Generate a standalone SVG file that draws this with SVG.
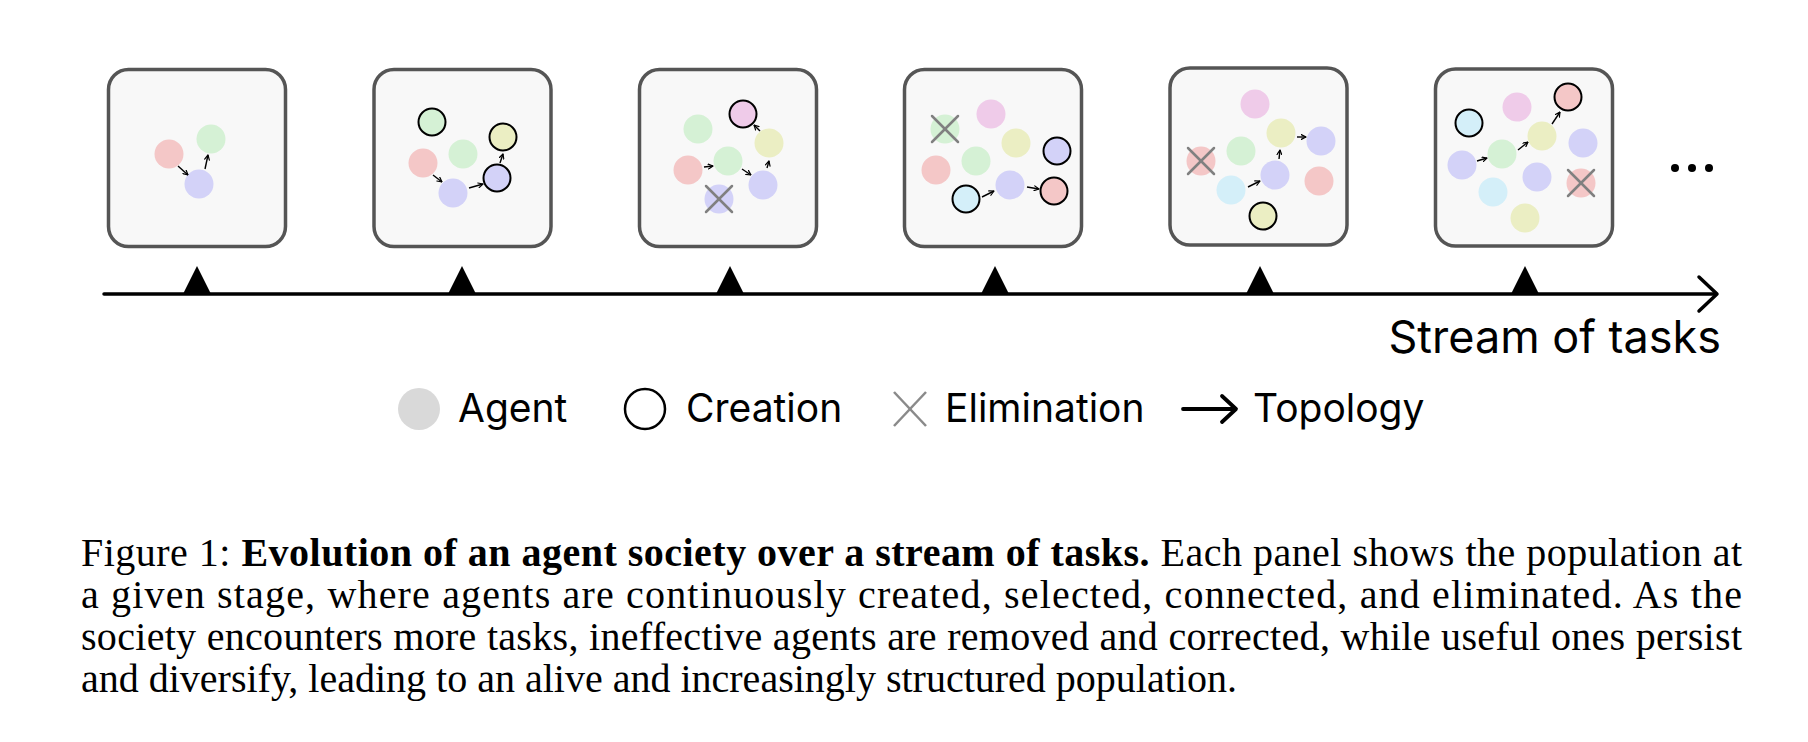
<svg xmlns="http://www.w3.org/2000/svg" width="1808" height="742" viewBox="0 0 1808 742">
<defs>
<marker id="ah" viewBox="0 0 6 6" refX="5.3" refY="3" markerWidth="6" markerHeight="6" orient="auto" markerUnits="userSpaceOnUse">
<path d="M0.6,0.6 L5.3,3 L0.6,5.4" fill="none" stroke="#000" stroke-width="1.2" stroke-linecap="round" stroke-linejoin="round"/>
</marker>
<style>
.panel{fill:#f8f8f8;stroke:#555;stroke-width:3.5}
.o{stroke:#000;stroke-width:2}
.r{fill:#f4c7c7}.g{fill:#d5f1d5}.p{fill:#d3d2f8}.y{fill:#ebeec3}.m{fill:#efcbe9}.c{fill:#d4eff9}
.x{stroke:#808080;stroke-width:2.5;stroke-linecap:round}
.e{stroke:#000;stroke-width:1.4;fill:none;marker-end:url(#ah)}
.lbl{font-family:Inter,"Noto Sans",sans-serif;fill:#000}
.cap{font-family:"Liberation Serif","Times New Roman",serif;font-size:40px;fill:#000}
</style>
</defs>
<rect width="1808" height="742" fill="#fff"/>

<g id="panel1">
<rect class="panel" x="108.5" y="69.5" width="177" height="177" rx="20"/>
<circle class="r" cx="169" cy="154" r="14.5"/>
<circle class="g" cx="211" cy="139" r="14.5"/>
<circle class="p" cx="199" cy="184" r="14.5"/>
</g>

<g id="panel2">
<rect class="panel" x="374" y="69.5" width="177" height="177" rx="20"/>
<circle class="g o" cx="432" cy="122" r="13.5"/>
<circle class="y o" cx="503" cy="137" r="13.5"/>
<circle class="g" cx="463" cy="154" r="14.5"/>
<circle class="r" cx="423" cy="163" r="14.5"/>
<circle class="p o" cx="497" cy="178" r="13.5"/>
<circle class="p" cx="453" cy="193" r="14.5"/>
</g>

<g id="panel3">
<rect class="panel" x="639.5" y="69.5" width="177" height="177" rx="20"/>
<circle class="m o" cx="743" cy="114" r="13.5"/>
<circle class="g" cx="698" cy="129" r="14.5"/>
<circle class="y" cx="769" cy="143" r="14.5"/>
<circle class="r" cx="688" cy="170" r="14.5"/>
<circle class="g" cx="728" cy="161" r="14.5"/>
<circle class="p" cx="763" cy="185" r="14.5"/>
<circle class="p" cx="719" cy="199" r="14.5"/>
<line class="x" x1="706" y1="186" x2="732" y2="212"/>
<line class="x" x1="732" y1="186" x2="706" y2="212"/>
</g>

<g id="panel4">
<rect class="panel" x="904.5" y="69.5" width="177" height="177" rx="20"/>
<circle class="m" cx="991" cy="114" r="14.5"/>
<circle class="g" cx="945" cy="129" r="14.5"/>
<line class="x" x1="932" y1="116" x2="958" y2="142"/>
<line class="x" x1="958" y1="116" x2="932" y2="142"/>
<circle class="y" cx="1016" cy="143" r="14.5"/>
<circle class="p o" cx="1057" cy="151" r="13.5"/>
<circle class="r" cx="936" cy="170" r="14.5"/>
<circle class="g" cx="976" cy="161" r="14.5"/>
<circle class="p" cx="1010" cy="185" r="14.5"/>
<circle class="r o" cx="1054" cy="191" r="13.5"/>
<circle class="c o" cx="966" cy="199" r="13.5"/>
</g>

<g id="panel5">
<rect class="panel" x="1170" y="68" width="177" height="177" rx="20"/>
<circle class="m" cx="1255" cy="104" r="14.5"/>
<circle class="y" cx="1281" cy="133" r="14.5"/>
<circle class="p" cx="1321" cy="141" r="14.5"/>
<circle class="g" cx="1241" cy="151" r="14.5"/>
<circle class="r" cx="1201" cy="161" r="14.5"/>
<line class="x" x1="1188" y1="148" x2="1214" y2="174"/>
<line class="x" x1="1214" y1="148" x2="1188" y2="174"/>
<circle class="p" cx="1275" cy="175" r="14.5"/>
<circle class="r" cx="1319" cy="181" r="14.5"/>
<circle class="c" cx="1231" cy="190" r="14.5"/>
<circle class="y o" cx="1263" cy="216" r="13.5"/>
</g>

<g id="panel6">
<rect class="panel" x="1435.5" y="69" width="177" height="177" rx="20"/>
<circle class="r o" cx="1568" cy="97" r="13.5"/>
<circle class="m" cx="1517" cy="107" r="14.5"/>
<circle class="c o" cx="1469" cy="123" r="13.5"/>
<circle class="y" cx="1542" cy="136" r="14.5"/>
<circle class="p" cx="1583" cy="143" r="14.5"/>
<circle class="g" cx="1502" cy="154" r="14.5"/>
<circle class="p" cx="1462" cy="165" r="14.5"/>
<circle class="p" cx="1537" cy="177" r="14.5"/>
<circle class="r" cx="1581" cy="183" r="14.5"/>
<line class="x" x1="1568" y1="170" x2="1594" y2="196"/>
<line class="x" x1="1594" y1="170" x2="1568" y2="196"/>
<circle class="c" cx="1493" cy="192" r="14.5"/>
<circle class="y" cx="1525" cy="218" r="14.5"/>
</g>

<g id="connectors">
<line class="e" x1="178" y1="166" x2="188" y2="175"/>
<line class="e" x1="205" y1="169" x2="208" y2="155"/>
<line class="e" x1="433" y1="175" x2="442" y2="182"/>
<line class="e" x1="469" y1="188" x2="483" y2="184"/>
<line class="e" x1="500" y1="163" x2="503" y2="154"/>
<line class="e" x1="704" y1="167" x2="713" y2="166"/>
<line class="e" x1="742" y1="169" x2="751" y2="175"/>
<line class="e" x1="767" y1="168" x2="769" y2="161"/>
<line class="e" x1="760" y1="131" x2="754" y2="125"/>
<line class="e" x1="982" y1="197" x2="994" y2="191"/>
<line class="e" x1="1027" y1="187" x2="1039" y2="189"/>
<line class="e" x1="1248" y1="187" x2="1260" y2="181"/>
<line class="e" x1="1279" y1="159" x2="1280" y2="150"/>
<line class="e" x1="1297" y1="137" x2="1306" y2="137"/>
<line class="e" x1="1477" y1="161" x2="1487" y2="158"/>
<line class="e" x1="1518" y1="150" x2="1528" y2="142"/>
<line class="e" x1="1552" y1="124" x2="1560" y2="112"/>
</g>

<g id="ellipsis" fill="#000">
<circle cx="1675" cy="168" r="4"/>
<circle cx="1692" cy="168" r="4"/>
<circle cx="1709" cy="168" r="4"/>
</g>

<g id="timeline">
<line x1="104" y1="294" x2="1716" y2="294" stroke="#000" stroke-width="3.5" stroke-linecap="round"/>
<polyline points="1699,277 1717,294 1699,311" fill="none" stroke="#000" stroke-width="3.5" stroke-linecap="round" stroke-linejoin="round"/>
<g fill="#000">
<polygon points="183,294 197,266 211,294"/>
<polygon points="448,294 462,266 476,294"/>
<polygon points="716,294 730,266 744,294"/>
<polygon points="981,294 995,266 1009,294"/>
<polygon points="1246,294 1260,266 1274,294"/>
<polygon points="1511,294 1525,266 1539,294"/>
</g>
<text class="lbl" x="1721" y="353" font-size="45" text-anchor="end">Stream of tasks</text>
</g>

<g id="legend">
<circle cx="419" cy="409" r="21" fill="#d9d9d9"/>
<text class="lbl" x="458" y="422" font-size="39">Agent</text>
<circle cx="645" cy="409" r="20" fill="none" stroke="#000" stroke-width="2.5"/>
<text class="lbl" x="686" y="422" font-size="39">Creation</text>
<line x1="894" y1="392" x2="926" y2="426" stroke="#8a8a8a" stroke-width="2.5"/>
<line x1="926" y1="392" x2="894" y2="426" stroke="#8a8a8a" stroke-width="2.5"/>
<text class="lbl" x="945" y="422" font-size="39">Elimination</text>
<line x1="1183" y1="409" x2="1234" y2="409" stroke="#000" stroke-width="3.8" stroke-linecap="round"/>
<polyline points="1222,396 1236,409 1222,422" fill="none" stroke="#000" stroke-width="3.8" stroke-linecap="round" stroke-linejoin="round"/>
<text class="lbl" x="1253" y="422" font-size="39">Topology</text>
</g>

<g id="caption">
<text class="cap" x="81" y="566" textLength="1661" lengthAdjust="spacing">Figure 1: <tspan font-weight="bold">Evolution of an agent society over a stream of tasks.</tspan> Each panel shows the population at</text>
<text class="cap" x="81" y="608" textLength="1661" lengthAdjust="spacing">a given stage, where agents are continuously created, selected, connected, and eliminated. As the</text>
<text class="cap" x="81" y="650" textLength="1661" lengthAdjust="spacing">society encounters more tasks, ineffective agents are removed and corrected, while useful ones persist</text>
<text class="cap" x="81" y="692">and diversify, leading to an alive and increasingly structured population.</text>
</g>
</svg>
